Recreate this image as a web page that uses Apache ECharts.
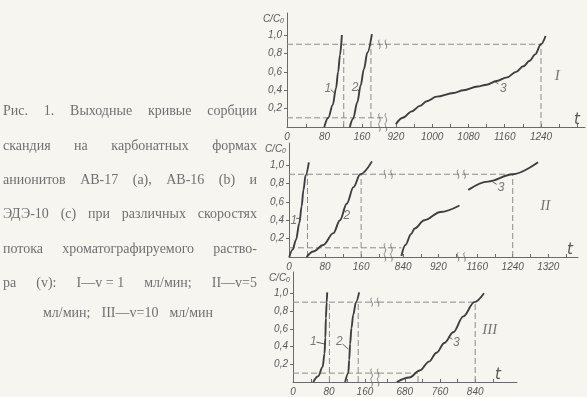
<!DOCTYPE html>
<html><head><meta charset="utf-8">
<script src="https://cdn.jsdelivr.net/npm/echarts@6/dist/echarts.min.js"></script>
<style>html,body{margin:0;padding:0;background:#f6f5ef}#c{width:587px;height:397px}</style>
</head><body><div id="c"></div>
<script>
// ================= DATA =================
const yTickValues = [0.2, 0.4, 0.6, 0.8, 1.0];
const yDomain = [0, 1.24];

// ---- Panel I : v = 1 мл/мин ----
const p1DomainA = [0, 209];
const p1DomainB = [896, 1337];
const p1xTicksA = [0, 40, 80, 120, 160];
const p1xLabelsA = [0, 80, 160];
const p1xTicksB = [920, 960, 1000, 1040, 1080, 1120, 1160, 1200, 1240, 1280, 1320];
const p1xLabelsB = [920, 1000, 1080, 1160, 1240];
const p1Curve1 = [[79.5,0],[88,0.1],[97.5,0.24],[104.5,0.42],[109,0.6],[113,0.78],[117,1.0]];
const p1Curve2 = [[134,0],[141,0.09],[150,0.27],[157,0.45],[164,0.63],[171.5,0.81],[181,1.01]];
const p1Curve3 = [[920,0.03],[935,0.1],[955,0.17],[973,0.23],[988,0.28],[1010,0.33],[1047,0.37],[1069,0.4],[1100,0.44],[1120,0.46],[1142,0.5],[1165,0.54],[1185,0.6],[1201,0.66],[1215,0.72],[1227,0.79],[1240,0.9],[1250,0.99]];
const p1DashA = [[[0,0.9],[209,0.9]], [[0,0.1],[209,0.1]], [[121,0],[121,0.9]], [[179,0],[179,0.9]]];
const p1DashB = [[[896,0.9],[1240,0.9]], [[1240,0],[1240,0.9]]];
const p1BreakA = [[204,0],[204,0.1],[204,0.9]];
const p1TagsA = [[87,0.42,'1'],[145,0.43,'2']];
const p1TagsB = [[1157,0.42,'3']];
const p1LeadersA = [[[93,0.41],[101,0.37]], [[150,0.41],[155,0.38]]];
const p1LeadersB = [[[1146,0.47],[1136,0.5]]];
const p1Roman = [[1276,0.55,'I']];

// ---- Panel II : v = 5 мл/мин ----
const p2DomainA = [0, 224];
const p2DomainB = [810, 976];
const p2DomainC = [1128, 1387];
const p2xTicksA = [0, 40, 80, 120, 160, 200];
const p2xLabelsA = [0, 80, 160];
const p2xTicksB = [840, 880, 920, 960];
const p2xLabelsB = [840, 920];
const p2xTicksC = [1160, 1200, 1240, 1280, 1320, 1360];
const p2xLabelsC = [1160, 1240, 1320];
const p2Curve1 = [[0.7,0],[8,0.08],[15.5,0.185],[23,0.37],[28,0.55],[32,0.73],[37,0.89],[44,1.03]];
const p2Curve2 = [[39,0],[54,0.06],[76,0.13],[98.5,0.26],[113,0.4],[128,0.58],[143,0.76],[158,0.9],[184,1.04]];
const p2Curve3a = [[836,0.01],[845,0.13],[858,0.25],[866,0.31],[888,0.4],[925,0.49],[968,0.56]];
const p2Curve3b = [[1140,0.73],[1184,0.82],[1240,0.9],[1297,1.03]];
const p2DashA = [[[0,0.9],[224,0.9]], [[0,0.1],[224,0.1]], [[41,0],[41,0.9]], [[160,0],[160,0.9]]];
const p2DashB = [[[810,0.9],[976,0.9]], [[810,0.1],[836,0.1]]];
const p2DashC = [[[1128,0.9],[1240,0.9]], [[1240,0],[1240,0.9]]];
const p2BreakA = [[220,0],[220,0.1],[220,0.9]];
const p2BreakB = [[972,0],[972,0.9]];
const p2TagsA = [[11,0.4,'1'],[128,0.45,'2']];
const p2TagsC = [[1214,0.75,'3']];
const p2LeadersA = [[[16,0.42],[23,0.42]], [[125,0.49],[120,0.52]]];
const p2LeadersC = [[[1204,0.79],[1194,0.82]]];
const p2Roman = [[1313,0.55,'II']];

// ---- Panel III : v = 10 мл/мин ----
const p3DomainA = [0, 189];
const p3DomainB = [619, 935];
const p3xTicksA = [0, 40, 80, 120, 160];
const p3xLabelsA = [0, 80, 160];
const p3xTicksB = [640, 680, 720, 760, 800, 840, 880];
const p3xLabelsB = [680, 760, 840];
const p3Curve1 = [[45,0],[56,0.065],[66,0.17],[70,0.32],[72,0.5],[73,0.72],[75,0.9],[76,1.01]];
const p3Curve2 = [[116,0],[123,0.1],[125,0.25],[127,0.43],[130,0.61],[134,0.76],[140,0.9],[147,1.01]];
const p3Curve3 = [[662,0],[690,0.05],[714,0.13],[735,0.23],[752,0.33],[770,0.44],[790,0.56],[813,0.74],[838,0.9],[860,1.0]];
const p3DashA = [[[0,0.9],[189,0.9]], [[0,0.1],[189,0.1]], [[81,0],[81,0.9]], [[145,0],[145,0.9]]];
const p3DashB = [[[619,0.9],[840,0.9]], [[619,0.1],[710,0.1]], [[840,0],[840,0.9]], [[710,0],[710,0.1]]];
const p3BreakA = [[182,0],[182,0.1],[182,0.9]];
const p3TagsA = [[45,0.45,'1'],[103,0.46,'2']];
const p3TagsB = [[797,0.44,'3']];
const p3LeadersA = [[[52,0.45],[69,0.43]], [[110,0.43],[123,0.37]]];
const p3LeadersB = [[[788,0.48],[780,0.51]]];
const p3Roman = [[873,0.58,'III']];

// ---- caption ----
const captionLines = [
  'Рис. 1. Выходные кривые сорбции',
  'скандия на карбонатных формах',
  'анионитов АВ-17 (a), АВ-16 (b) и',
  'ЭДЭ-10 (c) при различных скоростях',
  'потока хроматографируемого раство-',
  'ра (v): I—v\u00a0=\u00a01 мл/мин; II—v=5',
  'мл/мин; III—v=10 мл/мин'
];

// ================= LAYOUT / STYLE =================
const BG = '#f6f5ef', INK = '#3e3e3e', AX = '#6a6a6a', DASH = '#8c8c8c', TXT = '#585858', CAP = '#707070';
const TICK_FONT = 'Liberation Sans';
const PANEL_TOP = [13, 143, 272], PANEL_H = 114;

const SEGS = [
  {panel:0, left:287, width:98,  dom:p1DomainA, ticks:p1xTicksA, labels:p1xLabelsA, yAxis:true, curves:[p1Curve1,p1Curve2], dashes:p1DashA, breaks:p1BreakA, tags:p1TagsA, leaders:p1LeadersA},
  {panel:0, left:385, width:200, dom:p1DomainB, ticks:p1xTicksB, labels:p1xLabelsB, tGap:-8, curves:[p1Curve3], dashes:p1DashB, tags:p1TagsB, leaders:p1LeadersB, roman:p1Roman},
  {panel:1, left:289, width:101, dom:p2DomainA, ticks:p2xTicksA, labels:p2xLabelsA, yAxis:true, curves:[p2Curve1,p2Curve2], dashes:p2DashA, breaks:p2BreakA, tags:p2TagsA, leaders:p2LeadersA},
  {panel:1, left:390, width:73,  dom:p2DomainB, ticks:p2xTicksB, labels:p2xLabelsB, curves:[p2Curve3a], dashes:p2DashB, breaks:p2BreakB},
  {panel:1, left:463, width:115, dom:p2DomainC, ticks:p2xTicksC, labels:p2xLabelsC, tGap:-8, curves:[p2Curve3b], dashes:p2DashC, tags:p2TagsC, leaders:p2LeadersC, roman:p2Roman},
  {panel:2, left:293, width:85,  dom:p3DomainA, ticks:p3xTicksA, labels:p3xLabelsA, yAxis:true, curves:[p3Curve1,p3Curve2], dashes:p3DashA, breaks:p3BreakA, tags:p3TagsA, leaders:p3LeadersA},
  {panel:2, left:378, width:139, dom:p3DomainB, ticks:p3xTicksB, labels:p3xLabelsB, tGap:-19, curves:[p3Curve3], dashes:p3DashB, tags:p3TagsB, leaders:p3LeadersB, roman:p3Roman},
];

const grid = [], xAxis = [], yAxis = [], series = [];
const BREAK_PATH = 'path://M2,0 C0,3 4,6 2,10 M7,0 C5,3 9,6 7,10';

SEGS.forEach((s, g) => {
  grid.push({left:s.left, width:s.width, top:PANEL_TOP[s.panel], height:PANEL_H, containLabel:false});
  xAxis.push({
    type:'value', gridIndex:g, min:s.dom[0], max:s.dom[1],
    splitLine:{show:false},
    axisLine:{show:true, onZero:false, lineStyle:{color:AX, width:1}},
    axisTick:{show:true, inside:true, length:3, customValues:s.ticks, lineStyle:{color:AX}},
    axisLabel:{customValues:s.labels, margin:5, color:TXT, fontSize:10, fontStyle:'italic', fontFamily:TICK_FONT,
               formatter:v => String(Math.round(v))},
    name: s.tGap !== undefined ? 't' : '',
    nameLocation:'end', nameGap: s.tGap || 0,
    nameTextStyle:{color:TXT, fontSize:15, fontStyle:'italic', fontFamily:'DejaVu Sans', verticalAlign:'bottom', align:'center', padding:[0,0,-1,0]}
  });
  yAxis.push({
    type:'value', gridIndex:g, min:yDomain[0], max:yDomain[1], show: !!s.yAxis,
    splitLine:{show:false},
    axisLine:{show:true, lineStyle:{color:AX, width:1}},
    axisTick:{show:true, length:3, customValues:yTickValues, lineStyle:{color:AX}},
    axisLabel:{customValues:yTickValues, margin:5, color:TXT, fontSize:10, fontStyle:'italic', fontFamily:TICK_FONT,
               formatter:v => v.toFixed(1).replace('.', ',')},
    name:'C/C{s|0}', nameLocation:'end', nameGap:0,
    nameTextStyle:{color:TXT, fontSize:10, fontStyle:'italic', fontFamily:TICK_FONT, align:'right', verticalAlign:'top', padding:[0,3,0,0],
                   rich:{s:{fontSize:7, fontStyle:'italic', color:TXT, verticalAlign:'bottom', padding:[5,0,0,0]}}}
  });
  const base = {xAxisIndex:g, yAxisIndex:g, silent:true, animation:false};
  (s.dashes || []).forEach(d => series.push(Object.assign({type:'line', data:d, showSymbol:false, symbol:'none',
      lineStyle:{color:DASH, width:1, type:[6,3]}, z:2}, base)));
  (s.curves || []).forEach(c => series.push(Object.assign({type:'line', data:c, showSymbol:false, symbol:'none',
      smooth:0.35, smoothMonotone:'x', lineStyle:{color:INK, width:1.9}, z:4}, base)));
  (s.leaders || []).forEach(l => series.push(Object.assign({type:'line', data:l, showSymbol:false, symbol:'none',
      lineStyle:{color:INK, width:0.8}, z:4}, base)));
  if (s.breaks) series.push(Object.assign({type:'scatter', data:s.breaks, symbol:BREAK_PATH, symbolSize:[8,9],
      itemStyle:{color:'rgba(0,0,0,0)', borderColor:'#555', borderWidth:0.9}, z:5}, base));
  if (s.tags) series.push(Object.assign({type:'scatter', symbolSize:0,
      data:s.tags.map(t => ({value:[t[0], t[1]], name:t[2]})),
      label:{show:true, position:'inside', formatter:'{b}', color:TXT, fontSize:12, fontStyle:'italic', fontFamily:TICK_FONT}, z:6}, base));
  if (s.roman) series.push(Object.assign({type:'scatter', symbolSize:0,
      data:s.roman.map(t => ({value:[t[0], t[1]], name:t[2]})),
      label:{show:true, position:'inside', formatter:'{b}', color:TXT, fontSize:15, fontStyle:'italic', fontFamily:'Liberation Serif'}, z:6}, base));
});

// ---- caption layout (justified) ----
const CAP_FONT_SIZE = 14, CAP_FAMILY = 'Liberation Serif';
const ctx = document.createElement('canvas').getContext('2d');
ctx.font = CAP_FONT_SIZE + 'px "' + CAP_FAMILY + '"';
const capY = [111, 146, 180, 214, 249, 283, 313];
const capX = [[3,257],[3,257],[3,257],[3,257],[3,257],[3,257],[43,213]];
const graphic = [];
captionLines.forEach((line, i) => {
  const words = line.split(' ');
  const ws = words.map(w => ctx.measureText(w).width);
  const total = ws.reduce((a,b) => a+b, 0);
  const [x0, x1] = capX[i];
  const gap = words.length > 1 ? (x1 - x0 - total) / (words.length - 1) : 0;
  let x = x0;
  words.forEach((w, k) => {
    graphic.push({type:'text', x:x, y:capY[i], silent:true,
      style:{text:w, fill:CAP, fontSize:CAP_FONT_SIZE, fontFamily:CAP_FAMILY, align:'left', verticalAlign:'middle'}});
    x += ws[k] + gap;
  });
});

const chart = echarts.init(document.getElementById('c'), null, {renderer:'canvas'});
chart.setOption({backgroundColor:BG, animation:false, grid, xAxis, yAxis, series, graphic});
</script>
</body></html>
